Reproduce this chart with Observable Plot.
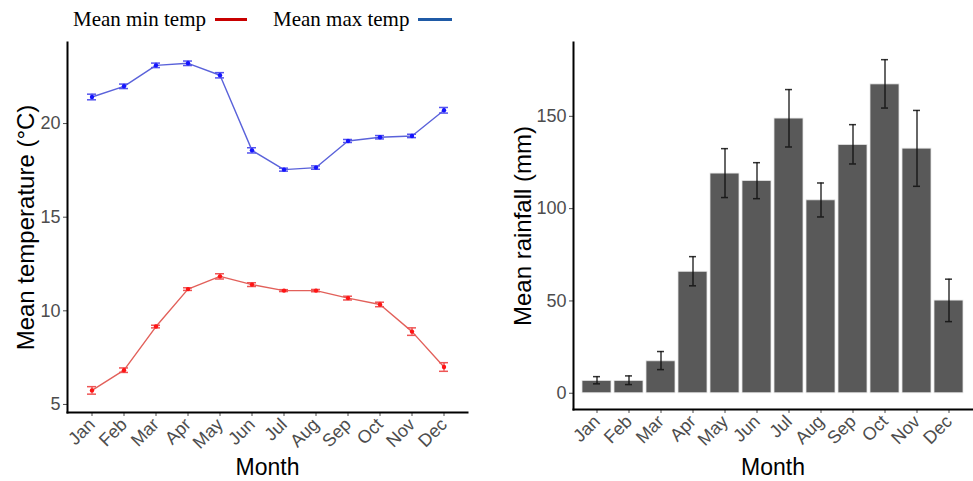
<!DOCTYPE html>
<html><head><meta charset="utf-8">
<script src="https://cdn.jsdelivr.net/npm/d3@7"></script>
<script src="https://cdn.jsdelivr.net/npm/@observablehq/plot@0.6"></script>
<style>
body{margin:0;background:#fff;width:973px;height:481px;overflow:hidden;position:relative;}
.leg{position:absolute;font-family:"Liberation Serif","Times New Roman",serif;font-size:21px;color:#000;white-space:nowrap;line-height:1;}
.legline{position:absolute;height:3px;}
#left{position:absolute;left:0;top:0;}
#right{position:absolute;left:488px;top:0;}
</style></head><body>
<div class="leg" style="left:73px;top:9px;">Mean min temp</div>
<div class="legline" style="left:215px;top:18px;width:32px;background:#c80000;"></div>
<div class="leg" style="left:273px;top:9px;">Mean max temp</div>
<div class="legline" style="left:418px;top:18px;width:34px;background:#1f5aa6;"></div>
<div id="left"></div>
<div id="right"></div>
<script>
const months = ["Jan","Feb","Mar","Apr","May","Jun","Jul","Aug","Sep","Oct","Nov","Dec"];
const maxTemp = [21.42, 21.99, 23.11, 23.22, 22.58, 18.57, 17.54, 17.65, 19.07, 19.27, 19.34, 20.71];
const maxTempErr = [0.15, 0.12, 0.12, 0.12, 0.14, 0.14, 0.08, 0.09, 0.08, 0.09, 0.09, 0.15];
const minTemp = [5.75, 6.83, 9.16, 11.16, 11.84, 11.40, 11.08, 11.08, 10.68, 10.34, 8.89, 7.00];
const minTempErr = [0.2, 0.12, 0.07, 0.07, 0.14, 0.1, 0.05, 0.06, 0.1, 0.12, 0.2, 0.23];
const rainfall = [6.7, 6.7, 17.3, 65.8, 119.0, 115.0, 148.8, 104.5, 134.5, 167.3, 132.5, 50.2];
const rainLow = [5.1, 4.7, 12.8, 58.2, 106.0, 105.4, 133.4, 95.5, 124.2, 154.5, 112.1, 38.8];
const rainHigh = [9.0, 9.4, 22.6, 74.0, 132.5, 124.9, 164.5, 113.9, 145.5, 180.7, 153.2, 61.8];
const tempTicks = [5, 10, 15, 20];
const rainTicks = [0, 50, 100, 150];
const tempDomain = [4.57, 24.33];
const rainDomain = [-8.8, 190];

const tempData = months.map((m, i) => ({month: m, min: minTemp[i], minErr: minTempErr[i], max: maxTemp[i], maxErr: maxTempErr[i]}));
const rainData = months.map((m, i) => ({month: m, rain: rainfall[i], lo: rainLow[i], hi: rainHigh[i]}));

const FONT = '"Liberation Sans Narrow","Liberation Sans",Arial,sans-serif';
const baseStyle = {fontFamily: FONT, fontSize: "18px", color: "#4d4d4d", background: "transparent", overflow: "visible"};

const left = Plot.plot({
  width: 485, height: 481,
  marginLeft: 67, marginRight: 18, marginTop: 42, marginBottom: 69,
  style: baseStyle,
  x: {type: "band", domain: months, paddingInner: 0.1, paddingOuter: 0.15, label: null, tickRotate: -45, tickSize: 4, tickPadding: 5},
  y: {domain: tempDomain, ticks: tempTicks, label: null, tickSize: 4, tickPadding: 3},
  marks: [
    Plot.line(tempData, {x: "month", y: "max", stroke: "#5a62da", strokeWidth: 1.4}),
    Plot.ruleX(tempData, {x: "month", y1: d => d.max - d.maxErr, y2: d => d.max + d.maxErr, stroke: "#5555ee", strokeWidth: 1.5}),
    Plot.tickY(tempData, {x: "month", y: d => d.max - d.maxErr, stroke: "#5555ee", strokeWidth: 1.5, insetLeft: 10, insetRight: 10}),
    Plot.tickY(tempData, {x: "month", y: d => d.max + d.maxErr, stroke: "#5555ee", strokeWidth: 1.5, insetLeft: 10, insetRight: 10}),
    Plot.dot(tempData, {x: "month", y: "max", r: 2.2, fill: "#1414ff"}),
    Plot.line(tempData, {x: "month", y: "min", stroke: "#e2605a", strokeWidth: 1.4}),
    Plot.ruleX(tempData, {x: "month", y1: d => d.min - d.minErr, y2: d => d.min + d.minErr, stroke: "#ee5555", strokeWidth: 1.5}),
    Plot.tickY(tempData, {x: "month", y: d => d.min - d.minErr, stroke: "#ee5555", strokeWidth: 1.5, insetLeft: 10, insetRight: 10}),
    Plot.tickY(tempData, {x: "month", y: d => d.min + d.minErr, stroke: "#ee5555", strokeWidth: 1.5, insetLeft: 10, insetRight: 10}),
    Plot.dot(tempData, {x: "month", y: "min", r: 2.2, fill: "#ff1414"}),
    Plot.frame({anchor: "left", stroke: "#000", strokeWidth: 2}),
    Plot.frame({anchor: "bottom", stroke: "#000", strokeWidth: 2}),
    Plot.text(["Mean temperature (°C)"], {text: d => d, frameAnchor: "left", rotate: -90, dx: -41, textAnchor: "middle", lineAnchor: "middle", fontSize: 24, fill: "#000", fontFamily: FONT}),
    Plot.text(["Month"], {text: d => d, frameAnchor: "bottom", dy: 55, textAnchor: "middle", lineAnchor: "middle", fontSize: 23, fill: "#000", fontFamily: FONT})
  ]
});
document.getElementById("left").append(left);

const right = Plot.plot({
  width: 485, height: 481,
  marginLeft: 85, marginRight: 1, marginTop: 42, marginBottom: 72,
  style: baseStyle,
  x: {type: "band", domain: months, paddingInner: 0.1, paddingOuter: 0.15, label: null, tickRotate: -45, tickSize: 4, tickPadding: 5},
  y: {domain: rainDomain, ticks: rainTicks, label: null, tickSize: 4, tickPadding: 3},
  marks: [
    Plot.barY(rainData, {x: "month", y: "rain", fill: "#595959", stroke: "#e6e6e6", strokeWidth: 0.8}),
    Plot.ruleX(rainData, {x: "month", y1: "lo", y2: "hi", stroke: "#111", strokeOpacity: 0.85, strokeWidth: 1.5}),
    Plot.tickY(rainData, {x: "month", y: "lo", stroke: "#111", strokeOpacity: 0.85, strokeWidth: 1.5, insetLeft: 11, insetRight: 11}),
    Plot.tickY(rainData, {x: "month", y: "hi", stroke: "#111", strokeOpacity: 0.85, strokeWidth: 1.5, insetLeft: 11, insetRight: 11}),
    Plot.frame({anchor: "left", stroke: "#000", strokeWidth: 2}),
    Plot.frame({anchor: "bottom", stroke: "#000", strokeWidth: 2}),
    Plot.text(["Mean rainfall (mm)"], {text: d => d, frameAnchor: "left", rotate: -90, dx: -50, textAnchor: "middle", lineAnchor: "middle", fontSize: 24, fill: "#000", fontFamily: FONT}),
    Plot.text(["Month"], {text: d => d, frameAnchor: "bottom", dy: 58, textAnchor: "middle", lineAnchor: "middle", fontSize: 23, fill: "#000", fontFamily: FONT})
  ]
});
document.getElementById("right").append(right);
</script>
</body></html>
